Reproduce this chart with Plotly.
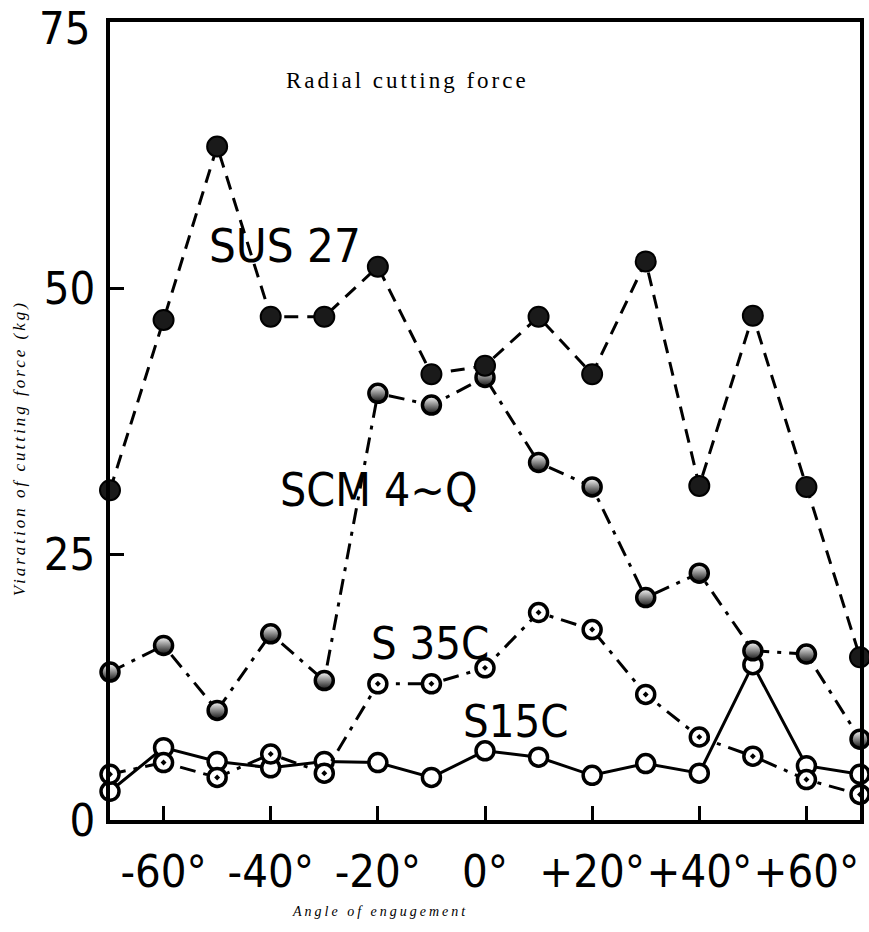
import plotly.graph_objects as go

angles = [-70, -60, -50, -40, -30, -20, -10, 0, 10, 20, 30, 40, 50, 60, 70]
sus27 = [31.0, 47.0, 63.3, 47.3, 47.3, 52.0, 41.9, 42.7, 47.3, 41.9, 52.5, 31.4, 47.4, 31.3, 15.3]
scm4q = [13.9, 16.4, 10.3, 17.5, 13.1, 40.1, 39.0, 41.6, 33.6, 31.3, 20.9, 23.2, 15.9, 15.6, 7.6]
s35c = [4.3, 5.4, 4.0, 6.2, 4.4, 12.8, 12.8, 14.3, 19.5, 17.9, 11.8, 7.8, 6.0, 3.8, 2.4]
s15c = [2.7, 6.8, 5.5, 4.9, 5.5, 5.4, 4.0, 6.5, 5.9, 4.2, 5.3, 4.4, 14.6, 5.1, 4.3]

xtick_vals = [-60, -40, -20, 0, 20, 40, 60]
xtick_text = ["-60°", "-40°", "-20°", "0°", "+20°", "+40°", "+60°"]
ytick_vals = [0, 25, 50]
ytop_label = "75"

COND = "DejaVu Sans Condensed, Liberation Sans Narrow, DejaVu Sans, sans-serif"
SERIF = "Liberation Serif, DejaVu Serif, serif"

fig = go.Figure()

fig.add_trace(go.Scatter(
    x=angles, y=s15c, mode="lines+markers", name="S15C",
    line=dict(color="black", width=3, dash="solid"),
    marker=dict(symbol="circle", size=18, color="white", line=dict(color="black", width=3.5)),
    cliponaxis=False))

fig.add_trace(go.Scatter(
    x=angles, y=s35c, mode="lines+markers", name="S 35C",
    line=dict(color="black", width=3, dash="16px,8px,4px,8px"),
    marker=dict(symbol="circle-dot", size=18, color="white", line=dict(color="black", width=3.5)),
    cliponaxis=False))

fig.add_trace(go.Scatter(
    x=angles, y=scm4q, mode="lines+markers", name="SCM 4~Q",
    line=dict(color="black", width=3, dash="16px,8px,4px,8px"),
    marker=dict(symbol="circle", size=18, color="white",
                gradient=dict(type="vertical", color="#111111"),
                line=dict(color="black", width=3.5)),
    cliponaxis=False))

fig.add_trace(go.Scatter(
    x=angles, y=sus27, mode="lines+markers", name="SUS 27",
    line=dict(color="black", width=3, dash="14px,9px"),
    marker=dict(symbol="circle", size=20, color="#1a1a1a", line=dict(color="black", width=2)),
    cliponaxis=False))

labels = [
    ('<span style="letter-spacing:3px">Radial cutting force</span>', -14.4, 69.5, SERIF, 23),
    ("SUS 27", -37.3, 54.0, COND, 47),
    ("SCM 4~Q", -19.8, 31.0, COND, 46),
    ("S 35C", -10.3, 16.6, COND, 45),
    ("S15C", 5.8, 9.3, COND, 45),
]
annotations = []
for text, x, y, fam, size in labels:
    annotations.append(dict(text=text, x=x, y=y, xref="x", yref="y", showarrow=False,
                            font=dict(family=fam, size=size, color="black"),
                            xanchor="center", yanchor="middle"))

# top y-axis label (drawn as annotation so it stays inside the page)
annotations.append(dict(text=ytop_label, x=-0.023, y=1.0276, xref="paper", yref="paper",
                        showarrow=False, font=dict(family=COND, size=45, color="black"),
                        xanchor="right", yanchor="top"))

annotations.append(dict(text='<i><span style="letter-spacing:3px">Angle of engugement</span></i>',
                        x=0.36, y=-0.115, xref="paper", yref="paper",
                        showarrow=False, font=dict(family=SERIF, size=14, color="black"),
                        xanchor="center", yanchor="middle"))
annotations.append(dict(text='<i><span style="letter-spacing:3px">Viaration of cutting force (kg)</span></i>',
                        x=-0.1213, y=0.466,
                        xref="paper", yref="paper", textangle=-90,
                        showarrow=False, font=dict(family=SERIF, size=17, color="black"),
                        xanchor="center", yanchor="middle"))

fig.update_layout(
    width=869, height=932,
    margin=dict(l=110, r=9, t=22, b=112, autoexpand=False),
    paper_bgcolor="white", plot_bgcolor="white",
    showlegend=False,
    annotations=annotations,
    xaxis=dict(range=[-70, 70], tickvals=xtick_vals, ticktext=xtick_text,
               ticks="inside", ticklen=14, tickwidth=3, tickcolor="black",
               showgrid=False, zeroline=False, showline=True, linewidth=3.5,
               linecolor="black", mirror=True, ticklabelstandoff=9,
               tickangle=0, automargin=False,
               tickfont=dict(family=COND, size=45, color="black")),
    yaxis=dict(range=[0, 75], tickvals=ytick_vals,
               ticks="inside", ticklen=14, tickwidth=3, tickcolor="black",
               showgrid=False, zeroline=False, showline=True, linewidth=3.5,
               linecolor="black", mirror=True, ticklabelstandoff=2,
               automargin=False,
               tickfont=dict(family=COND, size=45, color="black")),
)

fig.write_html("out.html")
